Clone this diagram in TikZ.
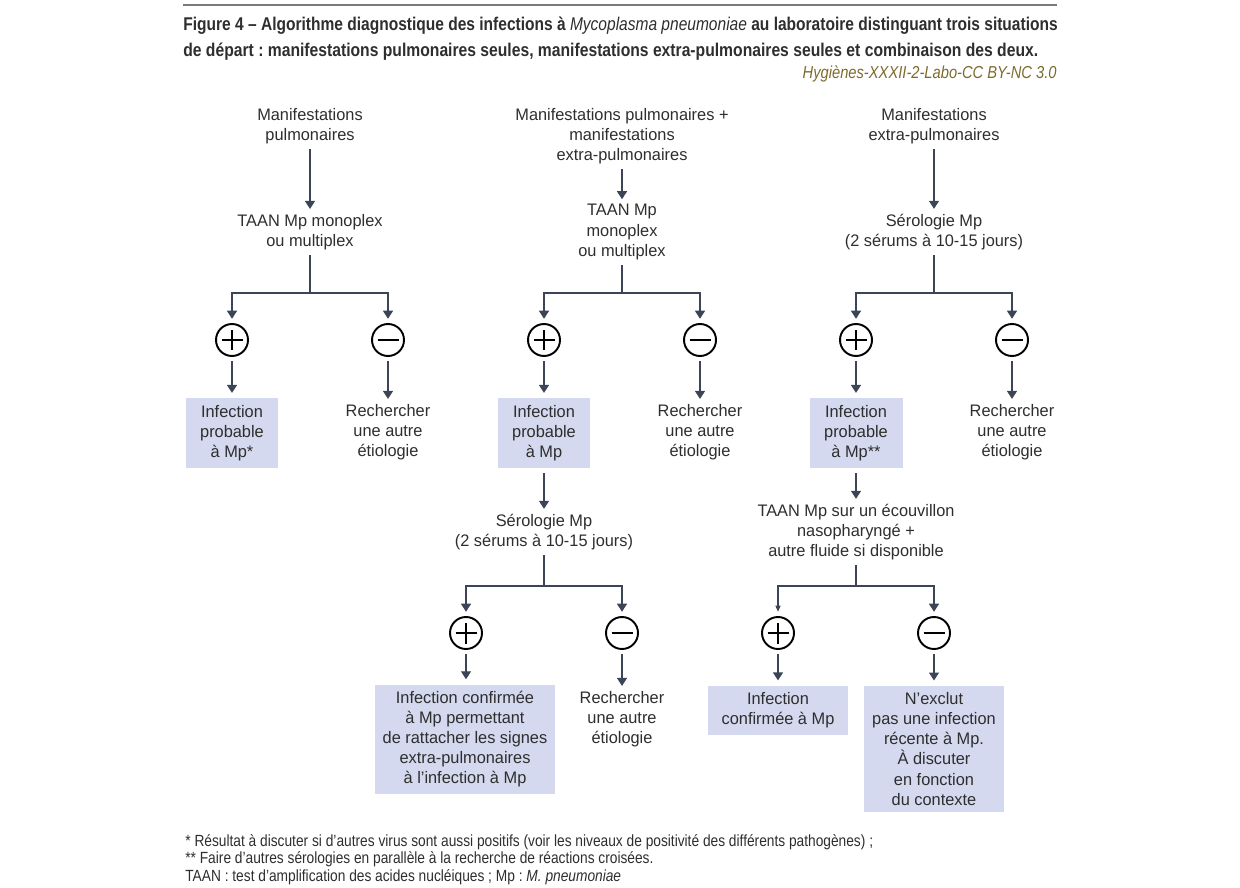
\documentclass[tikz,border=0pt]{standalone}
\usepackage{fontspec}
\setmainfont{Liberation Sans}[FakeStretch=0.98]
\newfontfamily\titlefont{Liberation Sans}[FakeStretch=0.85]
\newfontfamily\headfont{Liberation Sans}[FakeStretch=0.842]
\usetikzlibrary{arrows.meta}
\frenchspacing

\definecolor{flowgray}{HTML}{3B4556}
\definecolor{boxblue}{HTML}{D4D9EF}
\definecolor{srcolive}{HTML}{7D6B2E}
\definecolor{textgray}{HTML}{2E2E2E}
\definecolor{rulegray}{HTML}{7A7A7A}

\tikzset{
	flow/.style={draw=flowgray, line width=0.7pt},
	arr/.style={flow, -{Triangle[width=0.2cm, length=0.16cm]}},
	arrthin/.style={flow, -{Triangle[width=0.1cm, length=0.12cm]}},
	txt/.style={align=center, font=\fontsize{9.5}{11.4}\selectfont, text=textgray, inner sep=0pt, outer sep=3pt},
	result/.style={txt, fill=boxblue, inner xsep=2pt, inner ysep=4pt},
	sign/.style={circle, draw=black, line width=1.1pt, minimum size=0.64cm, inner sep=0pt, outer sep=3pt},
	possign/.style={sign, path picture={
		\draw[line width=1.1pt] ([xshift=-0.21cm]path picture bounding box.center) -- ([xshift=0.21cm]path picture bounding box.center);
		\draw[line width=1.1pt] ([yshift=-0.21cm]path picture bounding box.center) -- ([yshift=0.21cm]path picture bounding box.center);}},
	negsign/.style={sign, path picture={
		\draw[line width=1.1pt] ([xshift=-0.21cm]path picture bounding box.center) -- ([xshift=0.21cm]path picture bounding box.center);}},
	figtitle/.style={anchor=base west, inner sep=0pt, text=textgray, font=\headfont\bfseries\fontsize{10.5}{13}\selectfont},
	fnote/.style={anchor=base west, inner sep=0pt, text=textgray, font=\titlefont\fontsize{9.2}{11}\selectfont}
}

\begin{document}
\begin{tikzpicture}[x=0.02cm, y=-0.02cm]
	\useasboundingbox (0,0) rectangle (1240,888);
	
	% header
	\draw[rulegray, line width=1pt] (183,5) -- (1057,5);
	\node[figtitle] (title1) at (183,31) {Figure 4 – Algorithme diagnostique des infections à {\mdseries\itshape Mycoplasma pneumoniae} au laboratoire distinguant trois situations};
	\node[figtitle, font=\titlefont\bfseries\fontsize{10.5}{13}\selectfont] (title2) at (183,57) {de départ : manifestations pulmonaires seules, manifestations extra-pulmonaires seules et combinaison des deux.};
	\node[anchor=base east, inner sep=0pt, text=srcolive, font=\titlefont\itshape\fontsize{9.85}{11}\selectfont] (source) at (1057,79) {Hygiènes-XXXII-2-Labo-CC BY-NC 3.0};
	
	% manifestations pulmonaires
	\node[txt] (pulmo) at (310,126) {Manifestations\\pulmonaires};
	\node[txt] (taan1) at (310,232) {TAAN Mp monoplex\\ou multiplex};
	\coordinate (fork1) at (310,293);
	\node[possign] (pos1) at (232,340) {};
	\node[negsign] (neg1) at (388,340) {};
	\node[result, minimum width=1.86cm] (prob1) at (232,433) {Infection\\probable\\à Mp*};
	\node[txt] (autre1) at (388,432) {Rechercher\\une autre\\étiologie};
	
	\draw[arr] (pulmo) -- (taan1);
	\draw[flow] (taan1) -- (fork1);
	\draw[arr] (fork1) -| (pos1);
	\draw[arr] (fork1) -| (neg1);
	\draw[arr] (pos1) -- (prob1);
	\draw[arr] (neg1) -- (autre1);
	
	% manifestations pulmonaires + extra-pulmonaires
	\node[txt] (mixte) at (622,136) {Manifestations pulmonaires +\\manifestations\\extra-pulmonaires};
	\node[txt] (taan2) at (622,232) {TAAN Mp\\monoplex\\ou multiplex};
	\coordinate (fork2) at (622,293);
	\node[possign] (pos2) at (544,340) {};
	\node[negsign] (neg2) at (700,340) {};
	\node[result, minimum width=1.86cm] (prob2) at (544,433) {Infection\\probable\\à Mp};
	\node[txt] (autre2) at (700,432) {Rechercher\\une autre\\étiologie};
	\node[txt] (sero2) at (544,532) {Sérologie Mp\\(2 sérums à 10-15 jours)};
	\coordinate (fork3) at (544,586);
	\node[possign] (pos3) at (466,633) {};
	\node[negsign] (neg3) at (622,633) {};
	\node[result, minimum width=3.6cm] (conf2) at (465,739.5) {Infection confirmée\\à Mp permettant\\de rattacher les signes\\extra-pulmonaires\\à l’infection à Mp};
	\node[txt] (autre3) at (622,719) {Rechercher\\une autre\\étiologie};
	
	\draw[arr] (mixte) -- (taan2);
	\draw[flow] (taan2) -- (fork2);
	\draw[arr] (fork2) -| (pos2);
	\draw[arr] (fork2) -| (neg2);
	\draw[arr] (pos2) -- (prob2);
	\draw[arr] (neg2) -- (autre2);
	\draw[arr] (prob2) -- (sero2);
	\draw[flow] (sero2) -- (fork3);
	\draw[arr] (fork3) -| (pos3);
	\draw[arr] (fork3) -| (neg3);
	\draw[arr] (pos3) -- (pos3 |- conf2.north);
	\draw[arr] (neg3) -- (autre3);
	
	% manifestations extra-pulmonaires
	\node[txt] (extra) at (934,126) {Manifestations\\extra-pulmonaires};
	\node[txt] (sero3) at (934,232) {Sérologie Mp\\(2 sérums à 10-15 jours)};
	\coordinate (fork4) at (934,293);
	\node[possign] (pos4) at (856,340) {};
	\node[negsign] (neg4) at (1012,340) {};
	\node[result, minimum width=1.86cm] (prob3) at (856,433) {Infection\\probable\\à Mp**};
	\node[txt] (autre4) at (1012,432) {Rechercher\\une autre\\étiologie};
	\node[txt] (taan3) at (856,532) {TAAN Mp sur un écouvillon\\nasopharyngé +\\autre fluide si disponible};
	\coordinate (fork5) at (856,586);
	\node[possign] (pos5) at (778,633) {};
	\node[negsign] (neg5) at (934,633) {};
	\node[result, minimum width=2.8cm] (conf3) at (778,710.5) {Infection\\confirmée à Mp};
	\node[result, minimum width=2.8cm] (exclu) at (934,749) {N’exclut\\pas une infection\\récente à Mp.\\À discuter\\en fonction\\du contexte};
	
	\draw[arr] (extra) -- (sero3);
	\draw[flow] (sero3) -- (fork4);
	\draw[arr] (fork4) -| (pos4);
	\draw[arr] (fork4) -| (neg4);
	\draw[arr] (pos4) -- (prob3);
	\draw[arr] (neg4) -- (autre4);
	\draw[arr] (prob3) -- (taan3);
	\draw[flow] (taan3) -- (fork5);
	\draw[arrthin] (fork5) -| (pos5);
	\draw[arr] (fork5) -| (neg5);
	\draw[arr] (pos5) -- (conf3);
	\draw[arr] (neg5) -- (exclu);
	
	% notes
	\node[fnote] (note1) at (185,846) {* Résultat à discuter si d’autres virus sont aussi positifs (voir les niveaux de positivité des différents pathogènes) ;};
	\node[fnote] (note2) at (185,863) {** Faire d’autres sérologies en parallèle à la recherche de réactions croisées.};
	\node[fnote] (note3) at (185,881) {TAAN : test d’amplification des acides nucléiques ; Mp : \textit{M. pneumoniae}};
\end{tikzpicture}
\end{document}
